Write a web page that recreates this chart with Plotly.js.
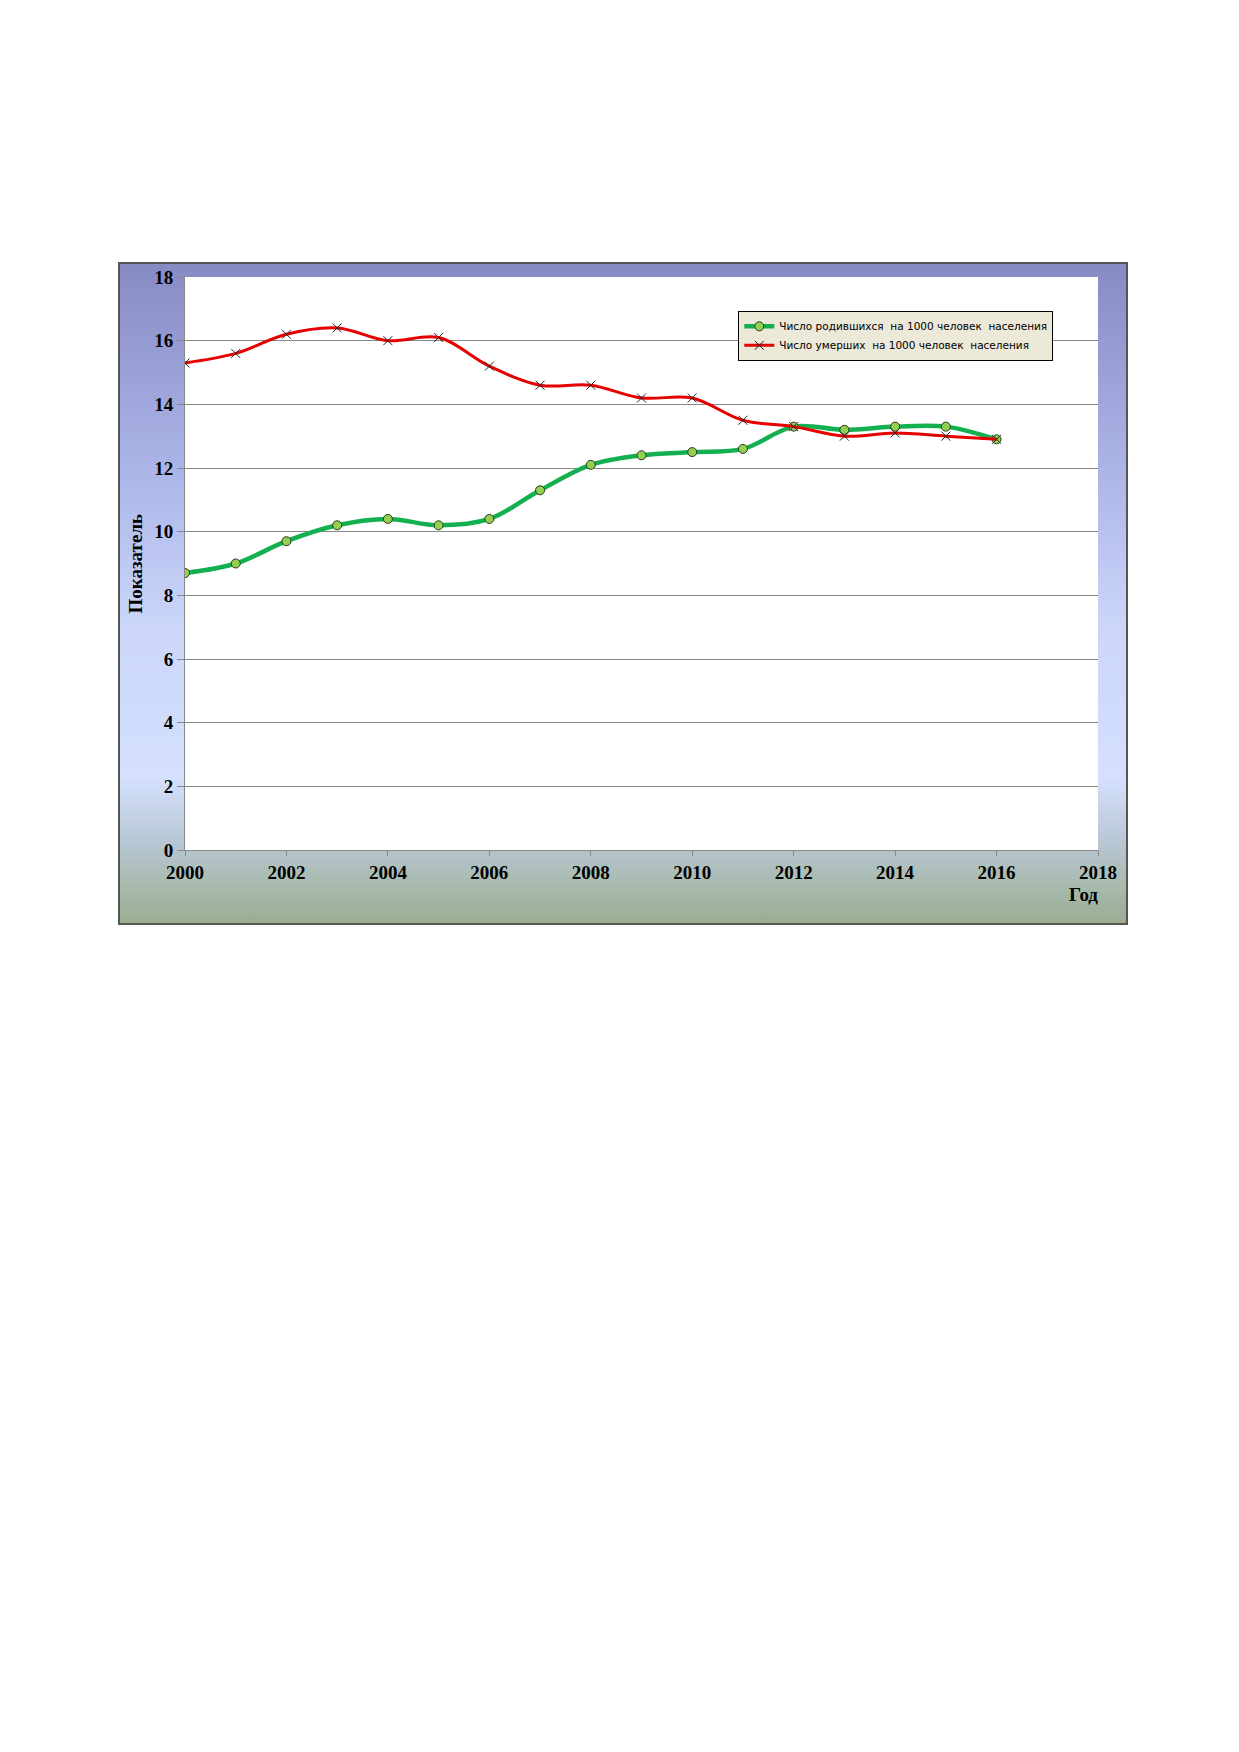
<!DOCTYPE html>
<html>
<head>
<meta charset="utf-8">
<script src="https://cdn.plot.ly/plotly-3.0.1.min.js"></script>
<style>
  body { margin: 0; background: #fff; }
  #page { position: relative; width: 1239px; height: 1752px; background: #fff; }
  #frame {
    position: absolute; left: 118px; top: 262px; width: 1006px; height: 659px;
    border: 2px solid #555;
    background: linear-gradient(to bottom, #878bc4 0%, #aab3e6 30%, #cbd6fa 55%, #d4e0fd 78%, #b7c6d2 88%, #a9bbae 94%, #9aad93 100%);
  }
  #chart { width: 1006px; height: 659px; }
</style>
</head>
<body>
<div id="page">
  <div id="frame"><div id="chart"></div></div>
</div>
<script>
// годы и показатели на 1000 человек населения
var years = [2000, 2001, 2002, 2003, 2004, 2005, 2006, 2007, 2008, 2009, 2010, 2011, 2012, 2013, 2014, 2015, 2016];
var births = [8.7, 9.0, 9.7, 10.2, 10.4, 10.2, 10.4, 11.3, 12.1, 12.4, 12.5, 12.6, 13.3, 13.2, 13.3, 13.3, 12.9];
var deaths = [15.3, 15.6, 16.2, 16.4, 16.0, 16.1, 15.2, 14.6, 14.6, 14.2, 14.2, 13.5, 13.3, 13.0, 13.1, 13.0, 12.9];

var birthsName = 'Число родившихся  на 1000 человек  населения';
var deathsName = 'Число умерших  на 1000 человек  населения';

var serif = 'Liberation Serif, Times New Roman, serif';
var tickFont = { family: serif, size: 19, color: '#000' };

var traceBirths = {
  x: years,
  y: births,
  name: birthsName,
  type: 'scatter',
  mode: 'lines+markers',
  line: { color: '#14b050', width: 4.5, shape: 'spline', smoothing: 1 },
  marker: { symbol: 'circle', size: 9, color: '#92d050', line: { color: '#2a3a20', width: 1 } }
};

var traceDeaths = {
  x: years,
  y: deaths,
  name: deathsName,
  type: 'scatter',
  mode: 'lines+markers',
  line: { color: '#e60000', width: 3, shape: 'spline', smoothing: 1 },
  marker: { symbol: 'x-thin-open', size: 9, color: '#222', line: { color: '#222', width: 1 } }
};

var layout = {
  width: 1006,
  height: 659,
  margin: { l: 65, r: 28, t: 13, b: 73 },
  paper_bgcolor: 'rgba(0,0,0,0)',
  plot_bgcolor: '#fff',
  showlegend: true,
  xaxis: {
    range: [2000, 2018],
    ticks: 'outside',
    ticklen: 5,
    tickcolor: '#888',
    showline: true,
    linecolor: '#888',
    linewidth: 1,
    showgrid: false,
    zeroline: false,
    tickfont: tickFont
  },
  yaxis: {
    range: [0, 18],
    ticks: 'outside',
    ticklen: 7,
    tickcolor: '#888',
    showline: true,
    linecolor: '#888',
    linewidth: 1,
    showgrid: true,
    gridcolor: '#888',
    gridwidth: 1,
    zeroline: false,
    tickfont: tickFont
  },
  legend: {
    x: 0.606,
    y: 0.941,
    xanchor: 'left',
    yanchor: 'top',
    bgcolor: '#ece9d8',
    bordercolor: '#000',
    borderwidth: 1,
    font: { family: 'DejaVu Sans, Verdana, sans-serif', size: 10.5, color: '#000' },
    itemwidth: 30,
    tracegroupgap: 0
  },
  annotations: [
    {
      text: '<b>Показатель</b>',
      xref: 'paper', yref: 'paper',
      x: -0.0537, y: 0.5,
      xanchor: 'center', yanchor: 'middle',
      textangle: -90,
      showarrow: false,
      font: { family: serif, size: 19, color: '#000' }
    },
    {
      text: '<b>Год</b>',
      xref: 'paper', yref: 'paper',
      x: 0.984, y: -0.078,
      xanchor: 'center', yanchor: 'middle',
      showarrow: false,
      font: { family: serif, size: 19, color: '#000' }
    }
  ]
};

// жирные подписи делений как в Excel
layout.xaxis.tickvals = [2000, 2002, 2004, 2006, 2008, 2010, 2012, 2014, 2016, 2018];
layout.xaxis.ticktext = layout.xaxis.tickvals.map(function (v) { return '<b>' + v + '</b>'; });
layout.yaxis.tickvals = [0, 2, 4, 6, 8, 10, 12, 14, 16, 18];
layout.yaxis.ticktext = layout.yaxis.tickvals.map(function (v) { return '<b>' + v + '</b>'; });

Plotly.newPlot('chart', [traceBirths, traceDeaths], layout, { displayModeBar: false, staticPlot: true });
</script>
</body>
</html>
